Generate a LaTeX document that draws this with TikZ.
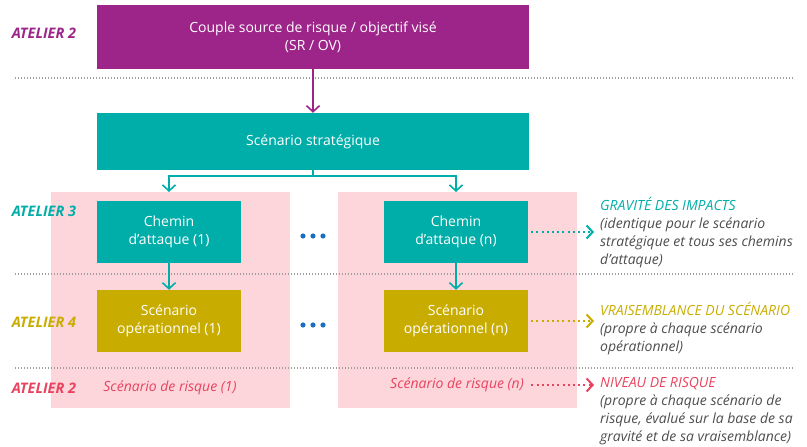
\documentclass[tikz,border=0pt]{standalone}
\usepackage{fontspec}
\setmainfont{Open Sans}
\usetikzlibrary{arrows.meta}

\definecolor{ebviolet}{HTML}{9D2488}
\definecolor{ebteal}{HTML}{00AEA9}
\definecolor{ebolive}{HTML}{C9AC00}
\definecolor{ebrouge}{HTML}{E8435E}
\definecolor{ebrose}{HTML}{FDD6DC}
\definecolor{ebbleu}{HTML}{1B6EC2}
\definecolor{ebgris}{HTML}{4D4D4D}

\begin{document}
\begin{tikzpicture}[x=1pt,y=-1pt,
  every node/.style={font=\fontsize{14}{18}\selectfont},
  bloc/.style={fill=#1, text=white, align=center, inner sep=0pt},
  atelier/.style={text=#1, font=\fontsize{14.5}{16}\selectfont\bfseries\itshape},
  fleche/.style={draw=#1, line width=1.6pt, -{Straight Barb[length=6pt,width=13pt]}},
  pointille/.style={draw=#1, line width=2pt, dash pattern=on 2pt off 3.2pt,
    -{Straight Barb[length=6pt,width=13pt]}},
  separation/.style={draw=gray!75, line width=1.1pt, dash pattern=on 1.1pt off 1.9pt},
  note/.style={anchor=north west, inner sep=0pt, align=left, text=ebgris,
    font=\fontsize{14}{18}\selectfont\itshape}]
\useasboundingbox (0,0) rectangle (807,447);

% fonds des scenarios de risque
\fill[ebrose] (51,192) rectangle (290,408);
\fill[ebrose] (338,192) rectangle (577,408);

% lignes de separation entre ateliers
\foreach \y in {78,274,368}{
  \draw[separation] (15,\y) -- (793,\y);
}

\node[atelier=ebviolet] (at2) at (44,33) {ATELIER 2};
\node[atelier=ebteal] (at3) at (44,211) {ATELIER 3};
\node[atelier=ebolive] (at4) at (44,322) {ATELIER 4};
\node[atelier=ebrouge] (at2b) at (44,388) {ATELIER 2};

\node[bloc=ebviolet, minimum width=432pt, minimum height=64pt] (couple) at (313,37)
  {Couple source de risque / objectif visé\\(SR / OV)};
\node[bloc=ebteal, minimum width=432pt, minimum height=57pt] (strat) at (313,141.5)
  {Scénario stratégique};

\node[bloc=ebteal, minimum width=144pt, minimum height=62pt] (chemin1) at (169,232)
  {Chemin\\d’attaque (1)};
\node[bloc=ebteal, minimum width=144pt, minimum height=62pt] (cheminn) at (456,232)
  {Chemin\\d’attaque (n)};
\node[bloc=ebolive, minimum width=144pt, minimum height=62pt] (oper1) at (169,321)
  {Scénario\\opérationnel (1)};
\node[bloc=ebolive, minimum width=144pt, minimum height=62pt] (opern) at (456,321)
  {Scénario\\opérationnel (n)};

\node[text=ebrouge, font=\fontsize{14}{16}\selectfont\itshape] (risque1) at (170,388)
  {Scénario de risque (1)};
\node[text=ebrouge, font=\fontsize{14}{16}\selectfont\itshape] (risquen) at (457,385)
  {Scénario de risque (n)};

% points de suspension
\foreach \y in {236,325}{
  \foreach \dx in {-10,0,10}
    \fill[ebbleu] (313+\dx,\y) circle (2.6pt);
}

\node[note] (gravite) at (600,197)
  {\textcolor{ebteal}{GRAVITÉ DES IMPACTS}\\(identique pour le scénario\\stratégique et tous ses chemins\\d’attaque)};
\node[note] (vraisemb) at (600,302)
  {\textcolor{ebolive}{VRAISEMBLANCE DU SCÉNARIO}\\(propre à chaque scénario\\opérationnel)};
\node[note] (niveau) at (600,377)
  {\textcolor{ebrouge}{NIVEAU DE RISQUE}\\(propre à chaque scénario de\\risque, évalué sur la base de sa\\gravité et de sa vraisemblance)};

% fleches
\coordinate (fourche) at (313,176);
\coordinate (entree1) at (169,192);
\coordinate (entreen) at (456,192);
\draw[fleche=ebviolet] (couple) -- (strat);
\draw[ebteal, line width=1.6pt] (strat.south) -- (fourche);
\draw[fleche=ebteal] (fourche) -| (entree1);
\draw[fleche=ebteal] (fourche) -| (entreen);
\draw[fleche=ebteal] (chemin1) -- (oper1);
\draw[fleche=ebteal] (cheminn) -- (opern);

\draw[pointille=ebteal] ([xshift=3pt]cheminn.east) -- ([xshift=-6pt]gravite.west |- cheminn.east);
\draw[pointille=ebolive] ([xshift=3pt]opern.east) -- ([xshift=-6pt]vraisemb.west |- opern.east);
\draw[pointille=ebrouge] ([xshift=4pt]risquen.east) -- ([xshift=-6pt]niveau.west |- risquen.east);
\end{tikzpicture}
\end{document}
